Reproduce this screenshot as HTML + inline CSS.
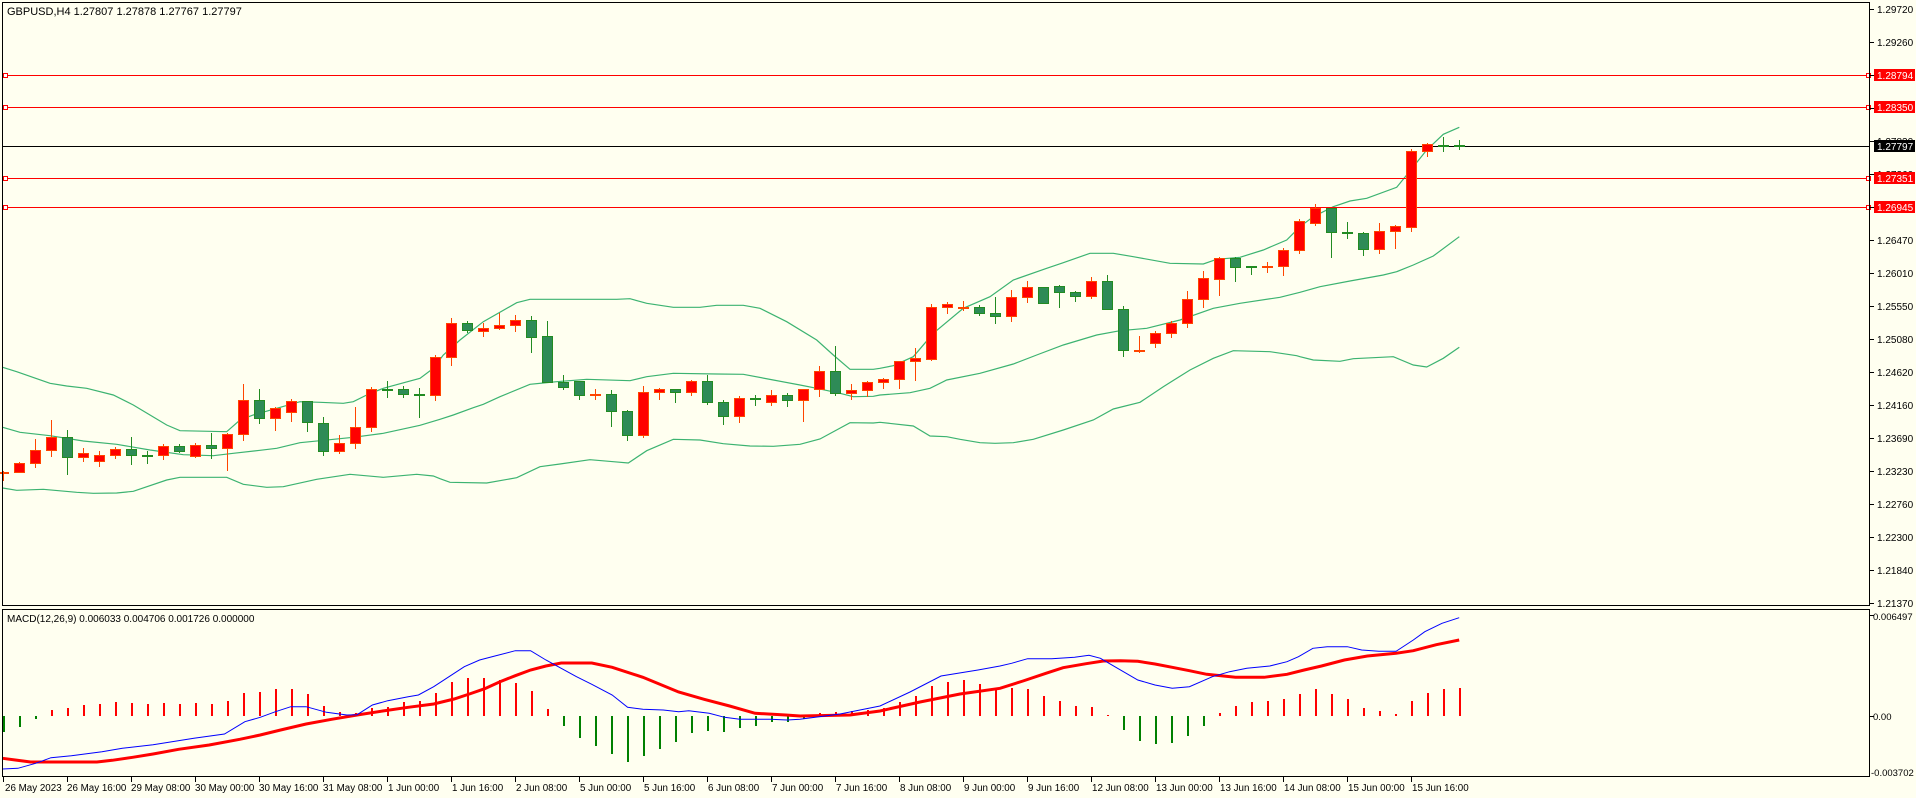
<!DOCTYPE html>
<html><head><meta charset="utf-8"><style>
html,body{margin:0;padding:0;background:#fffff0;}
svg{display:block;}
text{font-family:"Liberation Sans",sans-serif;font-size:11px;fill:#000;}
#plabels text{font-size:10px;}
#tlabels text{font-size:9.8px;}
</style></head><body>
<svg id="s" width="1916" height="798" xmlns="http://www.w3.org/2000/svg" shape-rendering="crispEdges">
<rect x="0" y="0" width="1916" height="798" fill="#fffff0"/>
<g id="bands" fill="none" stroke="#3cb371" stroke-width="1.2" shape-rendering="auto"></g>
<g id="hlines">
<line x1="2" y1="75.5" x2="1870" y2="75.5" stroke="#ff0000"/>
<line x1="2" y1="107.5" x2="1870" y2="107.5" stroke="#ff0000"/>
<line x1="2" y1="178.5" x2="1870" y2="178.5" stroke="#ff0000"/>
<line x1="2" y1="207.5" x2="1870" y2="207.5" stroke="#ff0000"/>
<line x1="2" y1="146.5" x2="1870" y2="146.5" stroke="#000"/>
<rect x="3.5" y="73.5" width="4" height="4" fill="#fff" stroke="#ff0000"/>
<rect x="3.5" y="105.5" width="4" height="4" fill="#fff" stroke="#ff0000"/>
<rect x="3.5" y="176.5" width="4" height="4" fill="#fff" stroke="#ff0000"/>
<rect x="3.5" y="205.5" width="4" height="4" fill="#fff" stroke="#ff0000"/>
<rect x="1866.5" y="73.5" width="4" height="4" fill="#fff" stroke="#ff0000"/>
<rect x="1866.5" y="105.5" width="4" height="4" fill="#fff" stroke="#ff0000"/>
<rect x="1866.5" y="176.5" width="4" height="4" fill="#fff" stroke="#ff0000"/>
<rect x="1866.5" y="205.5" width="4" height="4" fill="#fff" stroke="#ff0000"/>
</g>
<g id="candles"></g>
<g id="macd"></g>
<rect x="2.5" y="2.5" width="1867" height="603" fill="none" stroke="#000"/>
<rect x="2.5" y="609.5" width="1867" height="167" fill="none" stroke="#000"/>
<g id="ticks" stroke="#000"></g>
<text x="7" y="15">GBPUSD,H4  1.27807 1.27878 1.27767 1.27797</text>
<text x="7" y="622" style="font-size:10px">MACD(12,26,9) 0.006033 0.004706 0.001726 0.000000</text>
<g id="plabels">
<text x="1877" y="13">1.29720</text>
<text x="1877" y="46">1.29260</text>
<text x="1877" y="145">1.27830</text>
<text x="1877" y="178">1.27360</text>
<text x="1877" y="244">1.26470</text>
<text x="1877" y="277">1.26010</text>
<text x="1877" y="310">1.25550</text>
<text x="1877" y="343">1.25080</text>
<text x="1877" y="376">1.24620</text>
<text x="1877" y="409">1.24160</text>
<text x="1877" y="442">1.23690</text>
<text x="1877" y="475">1.23230</text>
<text x="1877" y="508">1.22760</text>
<text x="1877" y="541">1.22300</text>
<text x="1877" y="574">1.21840</text>
<text x="1877" y="607">1.21370</text>
<rect x="1874" y="69" width="41" height="12" fill="#ff0000"/>
<text x="1877" y="79" style="fill:#fff">1.28794</text>
<rect x="1874" y="101" width="41" height="12" fill="#ff0000"/>
<text x="1877" y="111" style="fill:#fff">1.28350</text>
<rect x="1874" y="140" width="41" height="12" fill="#000"/>
<text x="1877" y="150" style="fill:#fff">1.27797</text>
<rect x="1874" y="172" width="41" height="12" fill="#ff0000"/>
<text x="1877" y="182" style="fill:#fff">1.27351</text>
<rect x="1874" y="201" width="41" height="12" fill="#ff0000"/>
<text x="1877" y="211" style="fill:#fff">1.26945</text>
<text x="1873" y="620" style="font-size:9.5px">0.006497</text>
<text x="1873" y="720" style="font-size:9.5px">0.00</text>
<text x="1871" y="776" style="font-size:9.5px">-0.003702</text>
</g>
<g id="tlabels">
<text x="5" y="791">26 May 2023</text>
<text x="67" y="791">26 May 16:00</text>
<text x="131" y="791">29 May 08:00</text>
<text x="195" y="791">30 May 00:00</text>
<text x="259" y="791">30 May 16:00</text>
<text x="323" y="791">31 May 08:00</text>
<text x="388" y="791">1 Jun 00:00</text>
<text x="452" y="791">1 Jun 16:00</text>
<text x="516" y="791">2 Jun 08:00</text>
<text x="580" y="791">5 Jun 00:00</text>
<text x="644" y="791">5 Jun 16:00</text>
<text x="708" y="791">6 Jun 08:00</text>
<text x="772" y="791">7 Jun 00:00</text>
<text x="836" y="791">7 Jun 16:00</text>
<text x="900" y="791">8 Jun 08:00</text>
<text x="964" y="791">9 Jun 00:00</text>
<text x="1028" y="791">9 Jun 16:00</text>
<text x="1092" y="791">12 Jun 08:00</text>
<text x="1156" y="791">13 Jun 00:00</text>
<text x="1220" y="791">13 Jun 16:00</text>
<text x="1284" y="791">14 Jun 08:00</text>
<text x="1348" y="791">15 Jun 00:00</text>
<text x="1412" y="791">15 Jun 16:00</text>
</g>
</svg>
<script>
var NS="http://www.w3.org/2000/svg";
function el(p,t,a){var e=document.createElementNS(NS,t);for(var k in a)e.setAttribute(k,a[k]);p.appendChild(e);return e;}
var C=[
['r',576,580,572,600,280],['r',550,577,546,577,280],['r',511,550,478,560,280],['r',472,511,420,527,280],
['g',472,532,450,581,280],['r',520,532,504,542,280],['r',526,544,514,557,280],['r',508,526,502,533,280],
['g',508,526,472,551,280],['g',525,527,512,548,280],['r',499,526,492,536,280],['g',499,514,492,516,280],
['r',496,529,490,532,280],['g',496,505,459,533,280],['r',463,505,458,569,280],['r',361,463,313,479,280],
['g',361,415,328,428,280],['r',385,415,380,449,280],['r',364,397,357,422,280],['g',364,427,364,452,280],
['g',430,514,411,524,280],['r',490,514,466,520,280],['r',442,490,381,503,280],['r',328,442,320,452,280],
['g',327,329,304,352,280],['g',328,343,319,352,280],['g',343,346,325,410,280],['r',232,346,226,360,280],
['r',130,232,114,254,280],['g',130,149,124,155,280],['r',145,154,130,167,280],['r',136,145,100,148,280],
['r',121,136,105,152,280],['g',121,170,108,215,280],['g',169,307,123,307,280],['g',307,322,285,326,280],
['g',303,346,303,356,280],['r',343,346,328,356,280],['g',343,394,330,437,280],['g',394,464,390,479,280],
['r',337,464,319,470,280],['r',328,337,325,356,280],['g',328,337,328,365,280],['r',304,337,300,345,280],
['g',304,367,285,371,280],['g',367,409,360,431,280],['r',355,409,348,425,280],['g',354,361,346,375,280],
['r',346,367,330,374,280],['g',346,361,340,377,280],['r',328,361,328,422,280],['r',274,328,258,347,280],
['g',274,340,198,345,280],['r',331,340,312,356,280],['r',307,331,303,347,280],['r',298,307,294,323,280],
['r',484,538,484,563,200],['r',475,484,444,540,200],['r',322,476,313,479,200],['r',313,322,306,338,200],
['r',321,323,303,330,200],['g',322,340,316,344,200],['g',340,349,291,368,200],['r',292,349,270,362,200],
['r',262,292,243,305,200],['g',262,310,262,310,200],['g',259,277,255,320,200],['g',277,289,273,302,200],
['r',244,289,232,293,200],['g',244,328,225,328,200],['g',328,451,318,467,200],['r',449,452,408,455,200],
['r',400,430,394,440,200],['r',370,400,364,410,200],['r',298,370,273,380,200],['r',235,298,213,320,200],
['r',175,238,172,284,200],['g',175,202,172,242,200],['g',199,205,199,223,200],['r',199,205,186,215,200],
['r',151,199,145,224,200],['r',64,151,58,158,200],
['r',323,368,313,374,100],['g',323,395,323,470,100],['g',395,400,366,413,100],['g',400,446,397,464,100],
['r',394,446,370,459,100],['r',379,394,376,443,100],['r',154,380,148,392,100],['r',133,154,130,167,100],
['g',136,138,110,152,100],['g',136,138,120,146,100]];
var cg=document.getElementById('candles');
C.forEach(function(d,k){
  var c=3+16*k, o=d[5];
  var bt=Math.round(o+d[1]/3), bb=Math.round(o+d[2]/3), wt=Math.round(o+d[3]/3), wb=Math.round(o+d[4]/3);
  var stroke=d[0]=='r'?'#ff4500':'#228b22', fill=d[0]=='r'?'#ff0000':'#2e8b57';
  el(cg,'line',{x1:c+0.5,y1:wt,x2:c+0.5,y2:wb+1,stroke:stroke});
  if(bb-bt<=2){el(cg,'rect',{x:c-5,y:bt,width:11,height:2,fill:stroke});}
  else el(cg,'rect',{x:c-4.5,y:bt+0.5,width:10,height:bb-bt,fill:fill,stroke:stroke});
});
function pl(pts,sx,ox,oy,sy){return pts.map(function(p){return (ox+p[0]/sx).toFixed(1)+','+(oy+p[1]/sy).toFixed(1)}).join(' ');}
var U=[].concat(
 pl([[8,262],[50,275],[150,310],[200,318],[260,325],[340,345],[400,375],[450,405],[500,435],[540,452],[680,455],[720,420],[760,405],[900,365],[960,367],[1030,370],[1060,365],[1100,345],[1150,325],[1260,295],[1300,265]],3,0,280,3),
 pl([[10,225],[60,180],[130,125],[230,68],[270,58],[530,58],[570,56],[620,70],[700,82],[780,82],[830,76],[910,76],[960,85],[1040,125],[1130,180],[1180,225],[1230,268],[1300,268]],3,440,280,3),
 pl([[0,505],[40,497],[100,470],[160,400],[250,325],[330,290],[400,240],[500,205],[550,188],[630,160],[700,160],[760,170],[870,190],[970,192],[1010,178],[1080,172],[1150,150],[1220,120]],3,880,200,3),
 pl([[0,380],[40,350],[100,320],[150,303],[200,295],[290,262],[320,225],[380,150],[430,103],[478,82]],3,1300,100,3));
var M=[].concat(
 pl([[8,442],[60,457],[150,467],[250,483],[350,493],[450,510],[550,524],[640,527],[700,520],[780,511],[830,505],[900,488],[960,482],[1060,472],[1150,460],[1260,436]],3,0,280,3),
 pl([[0,418],[40,405],[100,383],[130,373],[180,350],[270,313],[310,309],[350,305],[440,298],[570,302],[620,290],[700,280],[830,282],[910,283],[1000,300],[1080,315],[1130,325],[1200,340],[1240,350],[1300,349]],3,440,280,3),
 pl([[0,585],[90,578],[150,565],[200,540],[300,520],[400,492],[470,465],[550,435],[650,405],[720,392],[800,385],[900,360],[1000,325],[1080,310],[1200,292]],3,880,200,3),
 pl([[0,577],[60,560],[150,543],[250,525],[290,515],[340,495],[400,468],[478,410]],3,1300,100,3));
var L=[].concat(
 pl([[8,624],[50,631],[130,628],[230,637],[280,640],[350,639],[400,634],[500,600],[540,592],[680,592],[730,613],[800,622],[850,620],[950,598],[1050,583],[1150,592],[1250,583],[1300,588]],3,0,280,3),
 pl([[0,596],[30,607],[140,609],[230,593],[300,560],[360,552],[450,539],[520,545],[565,549],[620,512],[700,478],[780,480],[850,491],[930,498],[1000,499],[1080,493],[1140,477],[1230,428],[1300,429]],3,440,280,3),
 pl([[0,667],[100,678],[150,708],[200,710],[240,718],[300,728],[345,730],[400,728],[460,718],[550,690],[640,660],[700,627],[780,607],[850,560],[930,510],[1000,475],[1060,452],[1170,455],[1250,467]],3,880,200,3),
 pl([[0,770],[40,780],[120,784],[160,776],[280,770],[340,795],[380,801],[430,775],[478,742]],3,1300,100,3));
var bg=document.getElementById('bands');
[U,M,L].forEach(function(a){el(bg,'polyline',{points:a.join(' ')});});
var z=716;
var H=[];
var z3=[-47,-32,-10,18,25,33,36,42,39,36,39,36,39,36,45,68,72,80,81,66,30,11,8,23,26,42,46,68,102,113,114,108,98,75,21,-30,-65,-89,-113,-138,-119,-98,-78,-52,-44,-47,-36,-29,-19,-17];
z3.forEach(function(v){H.push(v/3);});
[-3,3,4,5,6,8,14,20,30,34,36,32,28].forEach(function(v){H.push(v);});
[324,326,347,362,378,380,405,450,482,492,490,467,438,398,377,366,362,356,341,326,341,356,383,393,402,362,338,326,323].forEach(function(v){H.push((408-v)/3);});
var mg=document.getElementById('macd');
H.forEach(function(h,k){
  var c=3+16*k;
  if(h>=0) el(mg,'rect',{x:c,y:Math.round(z-h),width:2,height:Math.max(1,Math.round(h)),fill:'#ff0000'});
  else el(mg,'rect',{x:c,y:z,width:2,height:Math.round(-h),fill:'#008000'});
});
var blue=[].concat(
 pl([[5,567],[35,565],[70,550],[100,533],[140,527],[200,515],[240,505],[300,494],[380,475],[440,462],[480,425],[510,412],[540,395],[570,380],[600,380],[640,397],[680,405],[700,404],[730,375],[760,362],[800,350],[820,345],[850,320],[880,290],[910,260],[940,240],[970,228],[1010,212],[1040,212],[1070,240],[1100,265],[1130,290],[1160,313],[1200,345],[1230,382],[1260,388],[1300,390],[1330,395],[1350,392],[1390,400],[1420,412],[1450,418],[1510,418],[1543,420],[1568,418]],1.96,0,580,3),
 ['840,714','880,706','910,692','941,676','978,670'],
 pl([[0,258],[20,250],[48,236],[90,236],[130,232],[155,226],[175,235],[200,260],[240,300],[270,315],[300,325],[330,320],[370,290],[400,275],[430,265],[470,258],[500,245],[520,230],[545,205],[570,200],[605,200],[630,210],[660,214],[690,214],[720,180],[740,155],[770,130],[800,113]],1.742,1000,580,3));
var red=[].concat(
 pl([[5,535],[30,540],[60,546],[190,546],[220,541],[260,532],[300,522],[350,508],[410,495],[470,478],[510,465],[550,450],[600,432],[650,418],[700,405],[750,393],[800,382],[850,372],[890,357],[920,342],[950,326],[980,305],[1010,287],[1040,270],[1070,258],[1100,249],[1160,249],[1200,262],[1260,292],[1330,336],[1380,358],[1430,378],[1480,400],[1540,405],[1568,408]],1.96,0,580,3),
 ['850,715','880,711','920,702','960,694'],
 pl([[0,325],[40,303],[80,280],[110,263],[150,251],[180,243],[210,242],[240,244],[270,252],[300,262],[330,272],[360,283],[410,292],[460,292],[500,283],[530,270],[560,258],[600,240],[640,228],[690,220],[720,212],[760,194],[800,180]],1.742,1000,580,3));
el(mg,'polyline',{points:red.join(' '),fill:'none',stroke:'#ff0000','stroke-width':3,'shape-rendering':'auto'});
el(mg,'polyline',{points:blue.join(' '),fill:'none',stroke:'#0000ff','stroke-width':1,'shape-rendering':'auto'});
var tg=document.getElementById('ticks');
for(var i=0;i<19;i++){var y=9+33*i+0.5;el(tg,'line',{x1:1870,y1:y,x2:1874,y2:y});}
[615.5,716.5].forEach(function(y){el(tg,'line',{x1:1870,y1:y,x2:1874,y2:y});});
for(var k=0;k<=88;k+=4){var x=3+16*k+0.5;el(tg,'line',{x1:x,y1:777,x2:x,y2:782});}
</script>
</body></html>
